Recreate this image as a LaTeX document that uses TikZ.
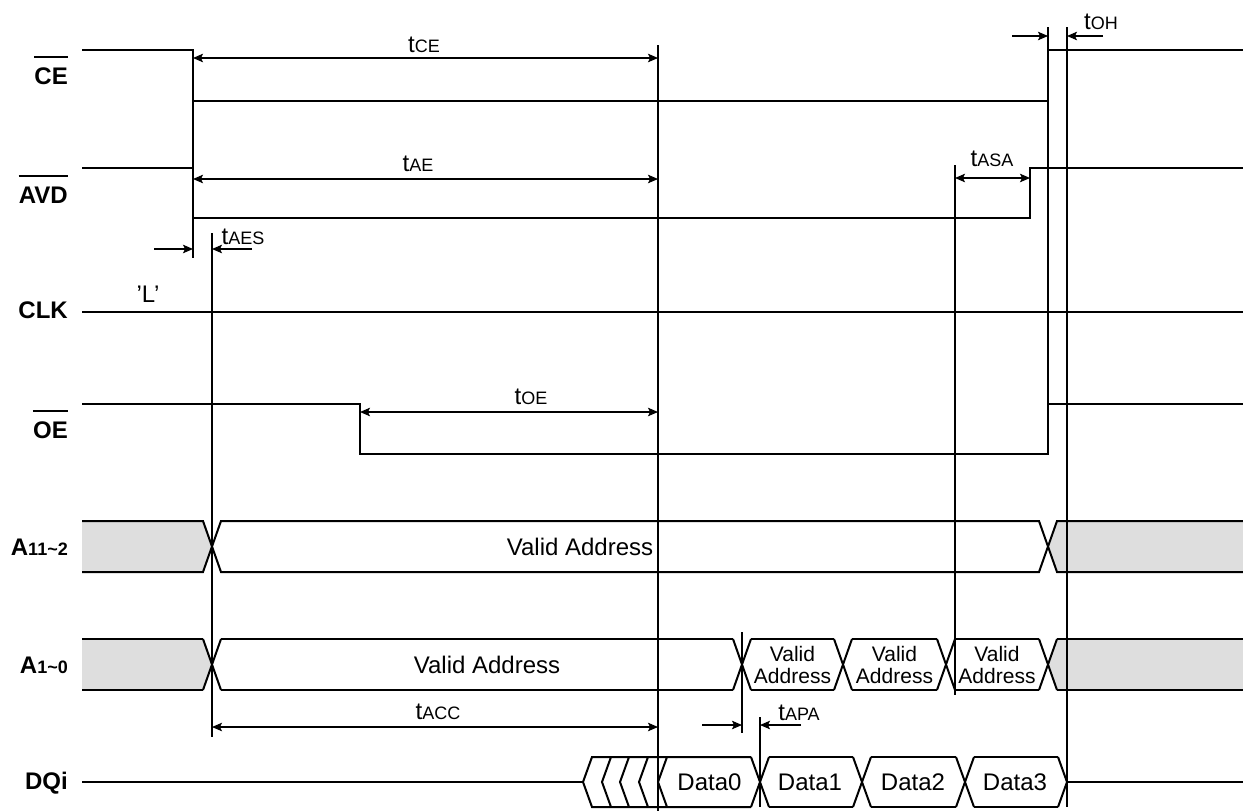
\documentclass[tikz,border=0pt]{standalone}
\usepackage{fontspec}
\setmainfont{Liberation Sans}
\usetikzlibrary{arrows.meta}
\newcommand{\tsub}[2]{#1{\fontsize{18}{20}\selectfont #2}}

\begin{document}
\begin{tikzpicture}[x=1pt,y=-1pt,>={Stealth[length=10pt,width=8.5pt,inset=2pt]},
    sig/.style={line width=2pt},
    guide/.style={line width=1.1pt},
    dim/.style={guide,<->},
    busfill/.style={fill=black!13},
    lbl/.style={inner sep=0pt,anchor=base,font=\fontsize{24}{28}\selectfont},
    smalllbl/.style={lbl,font=\fontsize{21}{26}\selectfont},
    siglbl/.style={inner sep=0pt,anchor=base east,font=\fontsize{24}{28}\selectfont\bfseries}]
  \useasboundingbox (0,0) rectangle (1243,811);

  % 1) signal names, the active-low ones get a bar
  \node[siglbl] (ce) at (68,84) {CE};
  \node[siglbl] (avd) at (68,203) {AVD};
  \node[siglbl] (clk) at (68,318) {CLK};
  \node[siglbl] (oe) at (68,438) {OE};
  \node[siglbl] (ahi) at (68,555) {A\fontsize{18}{20}\selectfont 11\textasciitilde 2};
  \node[siglbl] (alo) at (68,673) {A\fontsize{18}{20}\selectfont 1\textasciitilde 0};
  \node[siglbl] (dq) at (68,789) {DQi};
  \foreach \s in {ce,avd,oe}
    \draw[sig] ([yshift=10pt]\s.north west) -- ([yshift=10pt]\s.north east);

  % 2) control lines
  \draw[sig] (82,50) -- (193,50) -- (193,101) -- (1048,101) -- (1048,50) -- (1243,50);
  \draw[sig] (82,168) -- (193,168) -- (193,218) -- (1030,218) -- (1030,168) -- (1243,168);
  \draw[sig] (82,312) -- (1243,312);
  \node[lbl] (low) at (148,302) {’L’};
  \draw[sig] (82,404) -- (360,404) -- (360,454) -- (1048,454) -- (1048,404) -- (1243,404);

  % 3) address bus A11~2
  \fill[busfill] (82,521) -- (203,521) -- (212,547) -- (203,572) -- (82,572) -- cycle;
  \fill[busfill] (1048,547) -- (1057,521) -- (1243,521) -- (1243,572) -- (1057,572) -- cycle;
  \draw[sig] (82,521) -- (203,521) -- (221,572) -- (1039,572) -- (1057,521) -- (1243,521);
  \draw[sig] (82,572) -- (203,572) -- (221,521) -- (1039,521) -- (1057,572) -- (1243,572);
  \node[lbl] (ahival) at (580,555.5) {Valid Address};

  % 4) address bus A1~0
  \fill[busfill] (82,639) -- (203,639) -- (212,664.5) -- (203,690) -- (82,690) -- cycle;
  \fill[busfill] (1048,664.5) -- (1057,639) -- (1243,639) -- (1243,690) -- (1057,690) -- cycle;
  \foreach \x in {212,742,843,946,1048}
    \draw[sig] (\x-9,639) -- (\x+9,690) (\x-9,690) -- (\x+9,639);
  \foreach \a/\b in {82/203,221/733,751/834,852/937,955/1039,1057/1243}
    \draw[sig] (\a,639) -- (\b,639) (\a,690) -- (\b,690);
  \node[lbl] (aloval) at (487,673) {Valid Address};
  \foreach \x in {792.5,894.5,997}
    \node[smalllbl,align=center,anchor=center] at (\x,664.5) {Valid\\[-4pt]Address};

  % 5) data bus DQi
  \draw[sig] (82,782) -- (583,782);
  \draw[sig] (751,757) -- (592,757) -- (583,782) -- (592,807) -- (751,807);
  \foreach \x in {602,620,639,658}
    \draw[sig] (\x+9,757) -- (\x,782) -- (\x+9,807);
  \foreach \x in {760,862,965}
    \draw[sig] (\x-9,757) -- (\x+9,807) (\x-9,807) -- (\x+9,757);
  \foreach \a/\b in {769/853,871/956,974/1058}
    \draw[sig] (\a,757) -- (\b,757) (\a,807) -- (\b,807);
  \draw[sig] (1058,757) -- (1067,782) -- (1058,807);
  \draw[sig] (1067,782) -- (1243,782);
  \node[lbl] (d0) at (709.5,790.5) {Data0};
  \node[lbl] (d1) at (810,790.5) {Data1};
  \node[lbl] (d2) at (913,790.5) {Data2};
  \node[lbl] (d3) at (1015,790.5) {Data3};

  % 6) reference lines
  \draw[guide] (193,101) -- (193,258);
  \draw[guide] (212,233) -- (212,737);
  \draw[guide] (658,45) -- (658,811);
  \draw[guide] (742,632) -- (742,733);
  \draw[guide] (760,717) -- (760,807);
  \draw[guide] (955,165) -- (955,695);
  \draw[guide] (1048,27) -- (1048,454);
  \draw[guide] (1067,27) -- (1067,807);

  % 7) timing arrows
  \draw[dim] (193,58) -- (658,58);
  \node[lbl] (tce) at (424,52) {\tsub{t}{CE}};
  \draw[dim] (193,179) -- (658,179);
  \node[lbl] (tae) at (418,171) {\tsub{t}{AE}};
  \draw[dim] (955,178) -- (1030,178);
  \node[lbl] (tasa) at (992,166) {\tsub{t}{ASA}};
  \draw[guide,->] (1012,36) -- (1048,36);
  \draw[guide,->] (1103,36) -- (1067,36);
  \node[lbl] (toh) at (1101,29) {\tsub{t}{OH}};
  \draw[guide,->] (154,249) -- (193,249);
  \draw[guide,->] (252,249) -- (212,249);
  \node[lbl] (taes) at (243,244) {\tsub{t}{AES}};
  \draw[dim] (360,412) -- (658,412);
  \node[lbl] (toe) at (531,404) {\tsub{t}{OE}};
  \draw[dim] (212,727) -- (658,727);
  \node[lbl] (tacc) at (438,719) {\tsub{t}{ACC}};
  \draw[guide,->] (702,725) -- (742,725);
  \draw[guide,->] (801,725) -- (760,725);
  \node[lbl] (tapa) at (799,720) {\tsub{t}{APA}};
\end{tikzpicture}
\end{document}
